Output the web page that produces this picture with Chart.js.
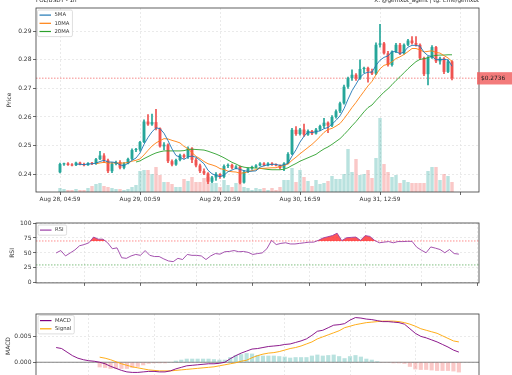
<!DOCTYPE html>
<html>
<head>
<meta charset="utf-8">
<script src="https://cdn.jsdelivr.net/npm/chart.js@4.4.1/dist/chart.umd.min.js"></script>
<style>
  html, body { margin: 0; padding: 0; background: #fff; overflow: hidden; }
  #wrap { position: relative; width: 512px; height: 375px; overflow: hidden; }
  canvas { position: absolute; left: 0; }
</style>
</head>
<body>
<div id="wrap">
  <canvas id="priceChart" width="512" height="208" style="top:0"></canvas>
  <canvas id="rsiChart" width="512" height="80" style="top:208px"></canvas>
  <canvas id="macdChart" width="512" height="100" style="top:288px"></canvas>
</div>
<script>
// hourly candles, index 0 = Aug 28, 04:59
const openP = [
  .2406,.2434,.2437,.2433,.2431,.2440,.2435,.2431,.2438,.2436,
  .2452,.2465,.2448,.2410,.2436,.2442,.2422,.2437,.2453,.2484,
  .2486,.2512,.2584,.2574,.2582,.2560,.2497,.2503,.2445,.2433,
  .2449,.2466,.2460,.2490,.2450,.2430,.2410,.2402,.2373,.2388,
  .2400,.2390,.2428,.2432,.2422,.2426,.2370,.2408,.2420,.2425,
  .2430,.2437,.2431,.2437,.2433,.2430,.2421,.2437,.2470,.2555,
  .2540,.2556,.2538,.2551,.2542,.2556,.2568,.2580,.2570,.2600,
  .2620,.2648,.2706,.2736,.2748,.2735,.2768,.2772,.2760,.2752,
  .2853,.2858,.2823,.2782,.2829,.2853,.2823,.2853,.2868,.2859,
  .2853,.2806,.2750,.2808,.2845,.2795,.2805,.2758,.2795
];
const highP = [
  .2438,.2438,.2440,.2437,.2442,.2442,.2438,.2440,.2441,.2455,
  .2480,.2472,.2452,.2440,.2445,.2447,.2440,.2456,.2488,.2490,
  .2515,.2590,.2608,.2610,.2627,.2562,.2510,.2506,.2450,.2452,
  .2470,.2470,.2495,.2493,.2455,.2435,.2418,.2405,.2392,.2405,
  .2402,.2432,.2436,.2435,.2430,.2428,.2412,.2422,.2428,.2433,
  .2440,.2440,.2440,.2440,.2436,.2432,.2440,.2475,.2560,.2566,
  .2560,.2575,.2555,.2553,.2560,.2572,.2595,.2583,.2605,.2625,
  .2652,.2712,.2740,.2765,.2752,.2800,.2775,.2775,.2768,.2860,
  .2925,.2862,.2830,.2832,.2858,.2858,.2856,.2872,.2882,.2882,
  .2856,.2810,.2812,.2850,.2848,.2810,.2808,.2800,.2798
];
const lowP = [
  .2404,.2430,.2430,.2428,.2429,.2432,.2428,.2430,.2433,.2434,
  .2450,.2440,.2405,.2405,.2432,.2418,.2418,.2435,.2450,.2478,
  .2480,.2510,.2570,.2570,.2555,.2494,.2485,.2440,.2428,.2430,
  .2446,.2455,.2455,.2440,.2425,.2405,.2398,.2366,.2370,.2378,
  .2385,.2386,.2422,.2418,.2418,.2365,.2368,.2405,.2416,.2422,
  .2428,.2428,.2428,.2430,.2428,.2418,.2412,.2435,.2468,.2535,
  .2536,.2532,.2535,.2538,.2540,.2552,.2562,.2545,.2566,.2596,
  .2615,.2645,.2700,.2728,.2728,.2732,.2755,.2722,.2748,.2748,
  .2845,.2820,.2778,.2778,.2825,.2818,.2820,.2850,.2855,.2848,
  .2802,.2745,.2712,.2805,.2790,.2785,.2752,.2755,.2730
];
const closeP = [
  .2435,.2436,.2432,.2430,.2440,.2434,.2431,.2438,.2436,.2452,
  .2465,.2448,.2410,.2436,.2442,.2422,.2437,.2453,.2484,.2486,
  .2512,.2584,.2574,.2582,.2560,.2497,.2503,.2445,.2433,.2449,
  .2466,.2460,.2490,.2450,.2430,.2410,.2402,.2373,.2388,.2400,
  .2390,.2428,.2432,.2422,.2426,.2370,.2408,.2420,.2425,.2430,
  .2437,.2431,.2437,.2433,.2430,.2421,.2437,.2470,.2555,.2540,
  .2556,.2538,.2551,.2542,.2556,.2568,.2580,.2570,.2600,.2620,
  .2648,.2706,.2736,.2748,.2735,.2768,.2772,.2760,.2752,.2853,
  .2858,.2823,.2782,.2829,.2853,.2823,.2853,.2868,.2859,.2853,
  .2806,.2750,.2808,.2845,.2795,.2805,.2758,.2795,.2736
];
const volume = [
  40,30,20,20,30,20,20,40,60,80,
  90,60,50,40,30,30,20,30,50,70,
  210,220,220,180,250,170,100,100,80,50,
  50,130,110,150,100,100,140,150,90,90,
  50,120,70,50,90,100,50,40,20,40,
  30,40,20,40,20,50,120,120,240,100,
  220,150,110,60,120,80,90,110,160,130,
  130,180,430,200,330,170,180,220,140,340,
  740,280,200,150,170,90,120,100,90,90,
  90,90,210,250,250,120,180,160,100
];
const ma5 = [
  null,null,null,null,.2435,.2434,.2433,.2435,.2436,.2438,
  .2444,.2448,.2442,.2442,.2440,.2432,.2429,.2438,.2448,.2456,
  .2474,.2504,.2528,.2548,.2562,.2559,.2543,.2517,.2488,.2465,
  .2459,.2451,.2460,.2463,.2459,.2448,.2436,.2413,.2401,.2395,
  .2391,.2396,.2408,.2414,.2420,.2416,.2412,.2409,.2410,.2411,
  .2424,.2429,.2432,.2434,.2434,.2430,.2432,.2438,.2463,.2485,
  .2512,.2532,.2548,.2545,.2549,.2551,.2559,.2563,.2575,.2588,
  .2604,.2629,.2662,.2692,.2715,.2739,.2752,.2757,.2757,.2781,
  .2799,.2809,.2814,.2829,.2829,.2822,.2828,.2845,.2851,.2851,
  .2848,.2827,.2815,.2812,.2801,.2801,.2802,.2800,.2778
];
const ma10 = [
  null,null,null,null,null,null,null,null,null,.2436,
  .2439,.2441,.2438,.2439,.2439,.2438,.2439,.2440,.2445,.2448,
  .2453,.2467,.2483,.2498,.2509,.2517,.2524,.2523,.2518,.2514,
  .2509,.2497,.2489,.2475,.2462,.2454,.2444,.2436,.2432,.2427,
  .2419,.2416,.2410,.2408,.2407,.2403,.2404,.2408,.2412,.2415,
  .2420,.2420,.2421,.2422,.2422,.2427,.2430,.2435,.2448,.2459,
  .2471,.2482,.2493,.2504,.2517,.2531,.2546,.2556,.2560,.2568,
  .2577,.2594,.2613,.2633,.2651,.2671,.2690,.2709,.2725,.2748,
  .2769,.2781,.2785,.2793,.2805,.2811,.2819,.2829,.2840,.2840,
  .2835,.2828,.2830,.2832,.2826,.2824,.2815,.2807,.2795
];
const ma20 = [
  null,null,null,null,null,null,null,null,null,null,
  null,null,null,null,null,null,null,null,null,.2442,
  .2446,.2454,.2461,.2468,.2474,.2478,.2481,.2481,.2481,.2481,
  .2481,.2482,.2486,.2487,.2486,.2485,.2484,.2480,.2475,.2470,
  .2464,.2457,.2449,.2441,.2435,.2428,.2424,.2422,.2422,.2421,
  .2420,.2418,.2416,.2415,.2415,.2415,.2417,.2422,.2430,.2437,
  .2445,.2451,.2457,.2463,.2469,.2479,.2488,.2495,.2504,.2514,
  .2524,.2538,.2553,.2569,.2584,.2601,.2618,.2633,.2642,.2658,
  .2673,.2687,.2699,.2713,.2728,.2741,.2755,.2769,.2782,.2794,
  .2802,.2804,.2808,.2813,.2816,.2817,.2817,.2818,.2818
];
const lastPrice = 0.2736;
const xTickHours = [0, 20, 40, 60, 80, 100];
const xTickLabels = ['Aug 28, 04:59', 'Aug 29, 00:59', 'Aug 29, 20:59', 'Aug 30, 16:59', 'Aug 31, 12:59', ''];
const subGridHours = [18, 30, 42, 54, 66, 78, 90, 102];

// RSI(14), first value at hour 12
const rsiStart = 12;
const rsi = [
  50,54,45,50,55,62,64,67,76.5,73,73,67,57,58.5,42,41,45,47.5,46,54,
  46,44,44,40,36.6,35.5,41,39,47.5,46,46,45,39,45,49,48,52,52.5,54,52,
  52.5,51,47.5,49,50,57,71,64,66,67,65,65,66,67,68,68,71,75,77,79,
  83,70.5,75.4,76,76.5,71,79,77.6,71,67,68,69,67,69,69,69.4,69.4,59.6,54.6,50.3,
  60,58,55.7,50.3,55.7,49,48
];

// MACD, first value at hour 24; signal and histogram from hour 32
const macdStart = 24;
const macd = [
  .0029,.0027,.0020,.0013,.0008,.0005,.0003,.0002,.0000,-.0003,
  -.0008,-.0012,-.0016,-.0019,-.0020,-.0020,-.0019,-.0018,-.0018,-.0019,
  -.0019,-.0017,-.0013,-.0010,-.0007,-.0006,-.0005,-.0004,-.0003,-.0003,
  -.0002,.0000,.0007,.0013,.0018,.0022,.0026,.0027,.0029,.0031,
  .0032,.0033,.0035,.0036,.0039,.0042,.0046,.0053,.0061,.0063,
  .0068,.0073,.0074,.0076,.0083,.0088,.0087,.0085,.0084,.0082,
  .0080,.0080,.0079,.0078,.0075,.0066,.0057,.0051,.0048,.0044,
  .0040,.0035,.0030,.0024,.0020
];
const signalStart = 32;
const signal = [
  .0010,.0008,.0005,.0001,-.0003,-.0006,-.0009,-.0011,-.0013,-.0015,
  -.0016,-.0017,-.0017,-.0017,-.0016,-.0015,-.0014,-.0013,-.0012,-.0011,
  -.0010,-.0009,-.0007,-.0005,-.0003,-.0001,.0002,.0004,.0009,.0013,
  .0016,.0018,.0019,.0021,.0024,.0027,.0029,.0032,.0036,.0040,
  .0046,.0050,.0054,.0058,.0062,.0068,.0071,.0074,.0076,.0078,
  .0079,.0080,.0081,.0081,.0081,.0080,.0078,.0075,.0071,.0066,
  .0063,.0060,.0057,.0052,.0047,.0042,.0040
];
const macdHist = [
  -.0010,-.0011,-.0013,-.0013,-.0013,-.0013,-.0011,-.0009,-.0006,-.0003,
  -.0002,-.0002,-.0002,.0000,.0003,.0005,.0007,.0007,.0007,.0007,
  .0007,.0006,.0005,.0005,.0010,.0014,.0016,.0018,.0017,.0014,
  .0013,.0013,.0013,.0012,.0011,.0009,.0010,.0010,.0010,.0013,
  .0015,.0013,.0014,.0015,.0012,.0008,.0012,.0014,.0011,.0007,
  .0005,.0002,-.0001,-.0001,-.0002,-.0002,-.0003,-.0009,-.0014,-.0015,
  -.0015,-.0016,-.0017,-.0017,-.0017,-.0018,-.0020
];

Chart.defaults.font.family = '"DejaVu Sans", sans-serif';
Chart.defaults.font.size = 6;
Chart.defaults.color = '#333';
Chart.defaults.animation = false;
Chart.defaults.events = [];
Chart.defaults.plugins.legend.display = false;
Chart.defaults.plugins.tooltip.enabled = false;

const UP = '#26a69a', DOWN = '#ef5350';
const UP_SOFT = 'rgba(38,166,154,0.32)', DOWN_SOFT = 'rgba(239,83,80,0.32)';
const isUp = closeP.map((c, i) => c >= openP[i]);

const grid = () => ({
  color: '#e2e2e2', lineWidth: 0.7, offset: false,
  tickLength: 3, tickColor: '#444', tickWidth: 0.8, tickBorderDash: []
});
const border = () => ({ display: false, dash: [2, 2] });

function drawLegend(chart, lg) {
  const ctx = chart.ctx;
  const items = lg.items.map(i => chart.data.datasets[i]);
  ctx.save();
  ctx.font = '5.3px "DejaVu Sans"';
  const textW = Math.max(...items.map(d => ctx.measureText(d.label).width));
  const rowH = 8.2;
  const w = 17 + textW + 3, h = items.length * rowH + 2;
  ctx.fillStyle = 'rgba(255,255,255,0.85)';
  ctx.strokeStyle = '#d5d5d5';
  ctx.lineWidth = 0.8;
  ctx.beginPath();
  ctx.roundRect(lg.x, lg.y, w, h, 1.5);
  ctx.fill();
  ctx.stroke();
  items.forEach((d, i) => {
    const yy = lg.y + 1 + rowH * (i + 0.5);
    ctx.strokeStyle = d.borderColor;
    ctx.lineWidth = 1.2;
    ctx.beginPath();
    ctx.moveTo(lg.x + 2, yy);
    ctx.lineTo(lg.x + 13.5, yy);
    ctx.stroke();
    ctx.fillStyle = '#333';
    ctx.textBaseline = 'middle';
    ctx.fillText(d.label, lg.x + 17, yy);
  });
  ctx.restore();
}

const panelDecor = {
  id: 'panelDecor',
  beforeDatasetsDraw(chart, args, opts) {
    const { ctx, chartArea: a, scales: { y } } = chart;
    (opts.hLines || []).forEach(l => {
      const py = y.getPixelForValue(l.value);
      ctx.save();
      ctx.strokeStyle = l.color;
      ctx.lineWidth = l.width || 0.9;
      ctx.setLineDash(l.dash || []);
      ctx.beginPath();
      ctx.moveTo(a.left, py);
      ctx.lineTo(a.right, py);
      ctx.stroke();
      ctx.restore();
    });
  },
  afterDatasetsDraw(chart, args, opts) {
    const { ctx, chartArea: a } = chart;
    ctx.save();
    ctx.strokeStyle = '#3a3a3a';
    ctx.lineWidth = 0.8;
    ctx.strokeRect(a.left, a.top, a.right - a.left, a.bottom - a.top);
    ctx.restore();
    if (opts.legend) drawLegend(chart, opts.legend);
    if (opts.extra) opts.extra(chart);
  }
};

function subX(min, max) {
  return {
    type: 'linear', min, max, offset: false,
    afterBuildTicks: s => { s.ticks = subGridHours.filter(v => v >= min && v <= max).map(v => ({ value: v })); },
    afterFit: s => { s.height = 4; },
    ticks: { display: false },
    grid: grid(), border: border()
  };
}

// ---- price panel ----
new Chart(document.getElementById('priceChart'), {
  type: 'bar',
  data: {
    datasets: [
      { type: 'line', label: '5MA', data: ma5.map((v, i) => ({ x: i, y: v })), borderColor: '#1f77b4', borderWidth: 0.9, pointRadius: 0, order: 1 },
      { type: 'line', label: '10MA', data: ma10.map((v, i) => ({ x: i, y: v })), borderColor: '#ff7f0e', borderWidth: 0.9, pointRadius: 0, order: 2 },
      { type: 'line', label: '20MA', data: ma20.map((v, i) => ({ x: i, y: v })), borderColor: '#2ca02c', borderWidth: 0.9, pointRadius: 0, order: 3 },
      { label: 'body', data: openP.map((o, i) => ({ x: i, y: [o, closeP[i]] })), backgroundColor: isUp.map(u => u ? UP : DOWN),
        grouped: false, minBarLength: 1, categoryPercentage: 0.8, barPercentage: 0.9, order: 4 },
      { label: 'wick', data: lowP.map((l, i) => ({ x: i, y: [l, highP[i]] })), backgroundColor: isUp.map(u => u ? UP : DOWN),
        grouped: false, barThickness: 1, order: 5 },
      { label: 'Volume', yAxisID: 'yv', data: volume.map((v, i) => ({ x: i, y: v })), backgroundColor: isUp.map(u => u ? UP_SOFT : DOWN_SOFT),
        grouped: false, categoryPercentage: 0.85, barPercentage: 1, order: 10 }
    ]
  },
  options: {
    responsive: false,
    layout: { padding: { top: 8, right: 33, left: 0, bottom: 0 } },
    scales: {
      x: {
        type: 'linear', min: -6, max: 104.75, offset: false,
        afterBuildTicks: s => { s.ticks = xTickHours.map(v => ({ value: v })); },
        afterFit: s => { s.height = 16; },
        ticks: { autoSkip: false, maxRotation: 0, padding: 1, font: { size: 5.8 }, callback: (v, i) => xTickLabels[i] },
        grid: grid(), border: border()
      },
      y: {
        min: 0.2337, max: 0.2982, beginAtZero: false,
        afterFit: s => { s.width = 36; },
        ticks: { stepSize: 0.01, includeBounds: false, padding: 1.5, callback: v => v.toFixed(2) },
        title: { display: true, text: 'Price', padding: { top: 6, bottom: 0 } },
        grid: grid(), border: border()
      },
      yv: { display: false, min: 0, max: 1840 }
    },
    plugins: {
      panelDecor: {
        hLines: [{ value: lastPrice, color: 'rgba(240,70,70,0.7)', dash: [1.5, 1.5] }],
        legend: { x: 37.5, y: 10, items: [0, 1, 2] },
        extra(chart) {
          const ctx = chart.ctx;
          const py = chart.scales.y.getPixelForValue(lastPrice);
          ctx.save();
          ctx.fillStyle = 'rgba(240,90,90,0.8)';
          ctx.fillRect(477, py - 6, 35, 12.3);
          ctx.fillStyle = '#222';
          ctx.font = '5.9px "DejaVu Sans"';
          ctx.textBaseline = 'middle';
          ctx.fillText('$' + lastPrice.toFixed(4), 481, py + 0.3);
          ctx.font = '5.6px "DejaVu Sans"';
          ctx.textBaseline = 'alphabetic';
          ctx.fillStyle = '#222';
          ctx.fillText('FOL/USDT - 1h', 36, 1.8);
          ctx.textAlign = 'right';
          ctx.fillText('X: @gemxbt_agent | tg: t.me/gemxbt', 479, 1.8);
          ctx.restore();
        }
      }
    }
  },
  plugins: [panelDecor]
});

// ---- RSI panel ----
new Chart(document.getElementById('rsiChart'), {
  type: 'line',
  data: {
    datasets: [{
      label: 'RSI', data: rsi.map((v, i) => ({ x: rsiStart + i, y: v })),
      borderColor: '#9b3fa6', borderWidth: 0.9, pointRadius: 0,
      fill: { target: { value: 70 }, above: 'rgba(255,30,30,0.75)', below: 'rgba(0,0,0,0)' }
    }]
  },
  options: {
    responsive: false,
    layout: { padding: { top: 15, right: 33, left: 0, bottom: 0 } },
    scales: {
      x: subX(7.7, 102.3),
      y: {
        min: 0, max: 100,
        afterFit: s => { s.width = 36; },
        ticks: { stepSize: 25, padding: 1.5 },
        title: { display: true, text: 'RSI', padding: { top: 8.6, bottom: 0 } },
        grid: grid(), border: border()
      }
    },
    plugins: {
      panelDecor: {
        hLines: [
          { value: 70, color: 'rgba(255,0,0,0.5)', dash: [1.5, 1.5] },
          { value: 30, color: 'rgba(0,128,0,0.55)', dash: [1.5, 1.5] }
        ],
        legend: { x: 38, y: 17, items: [0] }
      }
    }
  },
  plugins: [panelDecor]
});

// ---- MACD panel ----
new Chart(document.getElementById('macdChart'), {
  type: 'bar',
  data: {
    datasets: [
      { type: 'line', label: 'MACD', data: macd.map((v, i) => ({ x: macdStart + i, y: v })), borderColor: '#800080', borderWidth: 0.9, pointRadius: 0, order: 1 },
      { type: 'line', label: 'Signal', data: signal.map((v, i) => ({ x: signalStart + i, y: v })), borderColor: '#ffa500', borderWidth: 0.9, pointRadius: 0, order: 2 },
      { label: 'Histogram', data: macdHist.map((v, i) => ({ x: signalStart + i, y: v })),
        backgroundColor: macdHist.map(v => v >= 0 ? UP_SOFT : DOWN_SOFT), grouped: false,
        categoryPercentage: 0.8, barPercentage: 0.95, order: 5 }
    ]
  },
  options: {
    responsive: false,
    layout: { padding: { top: 26, right: 33, left: 0, bottom: 0 } },
    scales: {
      x: Object.assign(subX(20.3, 101.7), { afterFit: s => { s.height = 10; } }),
      y: {
        min: -0.0031, max: 0.0095, beginAtZero: false,
        afterFit: s => { s.width = 36; },
        ticks: { stepSize: 0.005, includeBounds: false, padding: 1.5, callback: v => v.toFixed(3) },
        title: { display: true, text: 'MACD', padding: { top: 4.6, bottom: 0 } },
        grid: grid(), border: border()
      }
    },
    plugins: {
      panelDecor: {
        hLines: [{ value: 0, color: '#777', dash: [] }],
        legend: { x: 38, y: 27.5, items: [0, 1] }
      }
    }
  },
  plugins: [panelDecor]
});
</script>
</body>
</html>
